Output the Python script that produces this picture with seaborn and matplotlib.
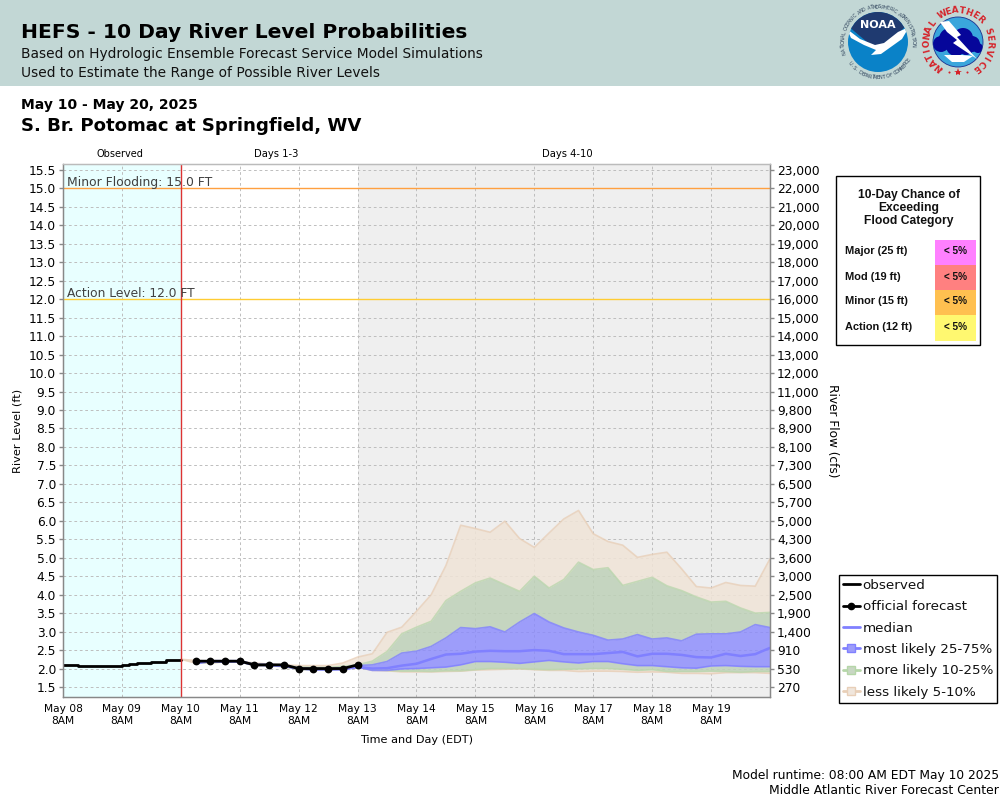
import numpy as np
import pandas as pd
import seaborn as sns
import matplotlib.pyplot as plt
import matplotlib.dates as mdates
from matplotlib.lines import Line2D
from matplotlib.patches import Circle, Polygon, Rectangle

# river levels in ft
obs_levels = [2.10, 2.10, 2.07, 2.07, 2.07, 2.07, 2.07, 2.07, 2.10, 2.12, 2.14, 2.16, 2.17, 2.18, 2.22, 2.22, 2.23]
official = [2.2, 2.2, 2.2, 2.2, 2.1, 2.1, 2.1, 2.0, 2.0, 2.0, 2.0, 2.1]

# 6 hourly from May 10 8AM to May 20 8AM
tan_hi = [2.25, 2.22, 2.2, 2.2, 2.2, 2.15, 2.12, 2.1, 2.08, 2.08, 2.08, 2.15, 2.31, 2.40, 2.98, 3.12, 3.55, 4.0, 4.79, 5.88,
          5.79, 5.69, 5.99, 5.52, 5.28, 5.67, 6.05, 6.28, 5.65, 5.44, 5.34, 5.01, 5.09, 5.15, 4.70, 4.22, 4.18, 4.33, 4.25, 4.23, 4.97]
green_hi = [2.25, 2.15, 2.2, 2.2, 2.2, 2.12, 2.1, 2.08, 2.04, 2.03, 2.03, 2.06, 2.1, 2.2, 2.46, 2.94, 3.12, 3.28, 3.84, 4.09,
            4.32, 4.45, 4.27, 4.09, 4.50, 4.18, 4.41, 4.88, 4.68, 4.73, 4.25, 4.36, 4.47, 4.24, 4.11, 3.94, 3.80, 3.82, 3.64, 3.50, 3.52]
blue_hi = [2.25, 2.15, 2.2, 2.2, 2.2, 2.1, 2.1, 2.08, 2.0, 2.0, 2.0, 2.02, 2.08, 2.10, 2.19, 2.42, 2.47, 2.60, 2.83, 3.11,
           3.08, 3.13, 2.99, 3.26, 3.49, 3.26, 3.10, 2.99, 2.90, 2.77, 2.80, 2.92, 2.80, 2.83, 2.75, 2.93, 2.94, 2.94, 2.99, 3.19, 3.11]
median = [2.25, 2.15, 2.2, 2.2, 2.2, 2.1, 2.1, 2.08, 2.0, 1.98, 1.98, 1.98, 2.04, 2.0, 2.01, 2.08, 2.13, 2.26, 2.38, 2.40,
          2.46, 2.48, 2.47, 2.47, 2.50, 2.48, 2.39, 2.39, 2.39, 2.42, 2.45, 2.33, 2.40, 2.40, 2.37, 2.31, 2.30, 2.40, 2.34, 2.39, 2.56]
blue_lo = [2.25, 2.15, 2.18, 2.18, 2.18, 2.09, 2.08, 2.06, 1.99, 1.97, 1.97, 1.98, 2.04, 1.95, 1.95, 1.99, 2.0, 2.02, 2.04, 2.10,
           2.19, 2.19, 2.17, 2.14, 2.18, 2.22, 2.18, 2.15, 2.19, 2.19, 2.13, 2.08, 2.08, 2.05, 2.02, 2.01, 2.07, 2.08, 2.06, 2.05, 2.05]
green_lo = [2.25, 2.15, 2.16, 2.18, 2.18, 2.08, 2.08, 2.05, 1.98, 1.96, 1.96, 1.98, 2.04, 1.96, 1.95, 1.93, 1.93, 1.92, 1.94, 1.94,
            1.97, 2.0, 2.0, 2.0, 1.98, 1.97, 1.98, 1.99, 2.0, 2.0, 1.98, 1.95, 1.97, 1.92, 1.92, 1.92, 1.93, 1.92, 1.90, 1.92, 1.92]
tan_lo = [2.25, 2.15, 2.15, 2.18, 2.18, 2.08, 2.08, 2.05, 1.98, 1.96, 1.96, 1.98, 2.04, 1.95, 1.94, 1.91, 1.91, 1.91, 1.92, 1.93,
          1.96, 1.97, 1.98, 1.99, 1.97, 1.95, 1.95, 1.92, 1.93, 1.93, 1.92, 1.90, 1.91, 1.90, 1.87, 1.87, 1.86, 1.89, 1.89, 1.89, 1.87]

flow_labels = ["23,000", "22,000", "21,000", "20,000", "19,000", "18,000", "17,000", "16,000", "15,000", "14,000",
               "13,000", "12,000", "11,000", "9,800", "8,900", "8,100", "7,300", "6,500", "5,700", "5,000",
               "4,300", "3,600", "3,000", "2,500", "1,900", "1,400", "910", "530", "270"]
flood_cats = ["Major (25 ft)", "Mod (19 ft)", "Minor (15 ft)", "Action (12 ft)"]
flood_chance = ["< 5%", "< 5%", "< 5%", "< 5%"]
flood_colors = ["#FF80FF", "#FF8080", "#FFC050", "#FFF870"]

start = pd.Timestamp("2025-05-08 08:00")
now = pd.Timestamp("2025-05-10 08:00")
day3 = pd.Timestamp("2025-05-13 08:00")
end = pd.Timestamp("2025-05-20 08:00")
obs_times = pd.date_range(start, now, freq="3h")
fc_times = pd.date_range(now, end, freq="6h")
off_times = pd.date_range(now + pd.Timedelta(hours=6), day3, freq="6h")

TAN, GREEN, BLUE = "#F0E4D7", "#BED1B8", "#8989FD"
TAN_E, GREEN_E, BLUE_E = "#E8CFB8", "#BBD6AE", "#8080FF"

sns.set_theme(style="white")
plt.rcParams["font.family"] = "DejaVu Sans"

fig = plt.figure(figsize=(10, 8), dpi=100)
page = fig.add_axes([0, 0, 1, 1], zorder=-1)
page.set_xlim(0, 1000)
page.set_ylim(800, 0)
page.axis("off")
ax = fig.add_axes([0.063, 103 / 800, 0.707, 533 / 800])

# shaded periods
ax.axvspan(start, now, color="#E8FFFF", lw=0, zorder=0)
ax.axvspan(day3, end, color="#EFEFEF", lw=0, zorder=0)
ax.set_axisbelow(True)
ax.grid(True, color="#BDBDBD", lw=0.7, ls=(0, (2.8, 2.8)))

t = fc_times
ax.fill_between(t, green_hi, tan_hi, color=TAN, alpha=0.85, lw=0)
ax.fill_between(t, blue_hi, green_hi, color=GREEN, alpha=0.85, lw=0)
ax.fill_between(t, blue_lo, blue_hi, color=BLUE, alpha=0.8, lw=0)
ax.fill_between(t, green_lo, blue_lo, color=GREEN, alpha=0.85, lw=0)
ax.fill_between(t, tan_lo, green_lo, color=TAN, alpha=0.85, lw=0)
sns.lineplot(x=t, y=tan_hi, ax=ax, color=TAN_E, lw=1.2, alpha=0.8)
sns.lineplot(x=t, y=tan_lo, ax=ax, color=TAN_E, lw=1.2, alpha=0.8)
# the inner bands only show once they leave the first forecast point
for vals, col in [(green_hi, GREEN_E), (green_lo, GREEN_E), (blue_hi, BLUE_E), (blue_lo, BLUE_E)]:
    sns.lineplot(x=t[1:], y=vals[1:], ax=ax, color=col, lw=1.2, alpha=0.8)
sns.lineplot(x=t[1:], y=median[1:], ax=ax, color=BLUE_E, lw=1.8)
sns.lineplot(x=obs_times, y=obs_levels, ax=ax, color="black", lw=2, drawstyle="steps-post")
sns.lineplot(x=off_times, y=official, ax=ax, color="black", lw=2, marker="o", markersize=5.6, markeredgewidth=0)

ax.axhline(15, color="#FFA040", lw=1)
ax.axhline(12, color="#FFCC33", lw=1)
ax.axvline(now, color="#DD3333", lw=1)
ax.text(start + pd.Timedelta(hours=1.5), 15.06, "Minor Flooding: 15.0 FT", fontsize=8.9, color="#404040", va="baseline")
ax.text(start + pd.Timedelta(hours=1.5), 12.06, "Action Level: 12.0 FT", fontsize=8.8, color="#404040", va="baseline")

ax.set_xlim(start, end)
ax.set_ylim(1.23, 15.66)
ticks = np.arange(1.5, 15.6, 0.5)
ax.set_yticks(ticks)
ax.set_yticklabels([f"{v:.1f}" for v in ticks], fontsize=8.8, color="black")
ax.set_xticks(pd.date_range(start, end - pd.Timedelta(days=1), freq="1D"))
ax.xaxis.set_major_formatter(mdates.DateFormatter("%b %d\n8AM"))
ax.tick_params(axis="x", labelsize=7.7, length=3, width=1, color="#888888", pad=2, labelcolor="black")
ax.tick_params(axis="y", length=3, width=1, color="#888888", pad=2, left=True)
ax.set_xlabel("")
ax.set_ylabel("")

right = ax.twinx()
right.set_ylim(ax.get_ylim())
right.set_yticks(ticks[::-1])
right.set_yticklabels(flow_labels, fontsize=8.8, color="black")
right.tick_params(axis="y", length=3, width=1, color="#888888", pad=2, right=True)
right.grid(False)
for a in (ax, right):
    for side, sp in a.spines.items():
        sp.set_color("#BBBBBB" if side == "top" else "#888888")
        sp.set_linewidth(0.9)

# header
page.add_patch(Rectangle((0, 0), 1000, 86, color="#C2D7D5", lw=0))
page.text(21, 33, "HEFS - 10 Day River Level Probabilities", fontsize=14.6, fontweight="bold", va="center", color="black")
page.text(21, 54, "Based on Hydrologic Ensemble Forecast Service Model Simulations", fontsize=9.95, va="center", color="#111111")
page.text(21, 73, "Used to Estimate the Range of Possible River Levels", fontsize=9.95, va="center", color="#111111")
page.text(21, 105, "May 10 - May 20, 2025", fontsize=10, fontweight="bold", va="center", color="black")
page.text(21, 126, "S. Br. Potomac at Springfield, WV", fontsize=13.1, fontweight="bold", va="center", color="black")

page.text(120, 154, "Observed", fontsize=7, ha="center", va="center", color="black")
page.text(276, 154, "Days 1-3", fontsize=7.2, ha="center", va="center", color="black")
page.text(567, 154, "Days 4-10", fontsize=7.2, ha="center", va="center", color="black")
page.text(18, 431, "River Level (ft)", fontsize=8.2, rotation=90, ha="center", va="center", color="black")
page.text(832, 431, "River Flow (cfs)", fontsize=8.7, rotation=270, ha="center", va="center", color="black")
page.text(417, 740, "Time and Day (EDT)", fontsize=8.1, ha="center", va="center", color="black")
page.text(999, 775, "Model runtime: 08:00 AM EDT May 10 2025", fontsize=8.85, ha="right", va="center", color="black")
page.text(999, 791, "Middle Atlantic River Forecast Center", fontsize=8.9, ha="right", va="center", color="black")

# flood category table
page.add_patch(Rectangle((836, 176), 144, 169, fc="white", ec="black", lw=1))
page.text(909, 208, "10-Day Chance of\nExceeding\nFlood Category", fontsize=8.7, fontweight="bold", family="Liberation Sans",
          ha="center", va="center", linespacing=1.1, color="#111111")
for i, (cat, chance, col) in enumerate(zip(flood_cats, flood_chance, flood_colors)):
    y = 240 + i * 25
    page.add_patch(Rectangle((935, y), 41, 25 if i < 3 else 26, color=col, lw=0))
    page.text(845, y + 11.5, cat, fontsize=7.9, fontweight="bold", family="Liberation Sans", va="center", color="#111111")
    page.text(955.5, y + 11.5, chance, fontsize=7.2, fontweight="bold", family="Liberation Sans", ha="center", va="center", color="#111111")

# legend
handles = [
    Line2D([], [], color="black", lw=2),
    Line2D([], [], color="black", lw=2, marker="o", markersize=4.5),
    Line2D([], [], color=BLUE_E, lw=2),
    Line2D([], [], color=BLUE_E, lw=2, marker="s", markersize=5.5, markerfacecolor="#9D9DFA", markeredgecolor=BLUE_E),
    Line2D([], [], color="#B5D6A8", lw=2, marker="s", markersize=5.5, markerfacecolor="#C8D7C3", markeredgecolor="#B5D6A8"),
    Line2D([], [], color=TAN_E, lw=2, marker="s", markersize=5.5, markerfacecolor="#F0E6DC", markeredgecolor=TAN_E),
]
labels = ["observed", "official forecast", "median", "most likely 25-75%", "more likely 10-25%", "less likely 5-10%"]
leg = page.legend(handles, labels, loc="upper left", bbox_to_anchor=(839 / 1000, 1 - 575 / 800), bbox_transform=fig.transFigure,
                  fontsize=9.7, frameon=True, fancybox=False, framealpha=1, edgecolor="black", borderaxespad=0,
                  borderpad=0.3, handlelength=1.25, handletextpad=0.2, labelspacing=0.62, labelcolor="#111111")
leg.get_frame().set_linewidth(1)


def arc_text(cx, cy, r, text, a0, a1, size, color, weight="normal", bottom=False):
    for ch, a in zip(text, np.linspace(a0, a1, len(text))):
        x = cx + r * np.cos(np.radians(a))
        y = cy - r * np.sin(np.radians(a))
        rot = a + 90 if bottom else a - 90
        page.text(x, y, ch, fontsize=size, color=color, fontweight=weight, rotation=rot, rotation_mode="anchor",
                  ha="center", va="center")


# NOAA logo
nx, ny = 878, 42
arc_text(nx, ny, 35, "NATIONAL OCEANIC AND ATMOSPHERIC ADMINISTRATION", 197, -5, 3.6, "#33475F")
arc_text(nx, ny, 35.5, "U.S. DEPARTMENT OF COMMERCE", 218, 330, 3.6, "#33475F", bottom=True)
disc = Circle((nx, ny), 30, fc="#0A82C8", ec="none")
page.add_patch(disc)
navy = Polygon([(nx - 30, ny - 32), (nx + 30, ny - 32), (nx + 30, ny - 18), (nx + 8, ny + 3), (nx - 5, ny + 5), (nx - 30, ny - 16)],
               fc="#1F3A70", ec="none")
page.add_patch(navy)
navy.set_clip_path(disc)
bird = Polygon([(nx - 31, ny - 13), (nx - 18, ny - 3), (nx - 3, ny + 3), (nx + 6, ny + 1), (nx + 20, ny - 10), (nx + 31, ny - 15),
                (nx + 24, ny - 3), (nx + 10, ny + 7), (nx + 3, ny + 12), (nx - 7, ny + 13), (nx - 2, ny + 8), (nx - 14, ny + 3), (nx - 27, ny - 4)],
               fc="white", ec="none")
page.add_patch(bird)
bird.set_clip_path(disc)
page.text(nx, ny - 17, "NOAA", fontsize=8, fontweight="bold", color="white", ha="center", va="center")

# NWS logo
wx, wy = 958, 42
arc_text(wx, wy, 31.5, "NATIONAL WEATHER SERVICE", 232, -55, 6.3, "#D5232A", weight="bold")
sky = Circle((wx, wy), 25, fc="#3AA6DC", ec="#1B2F8F", lw=0.6)
page.add_patch(sky)
for dx, dy, r in [(-17, 2, 8), (-8, -3, 11), (5, -4, 10), (14, 2, 8), (20, 6, 5), (-2, 4, 10), (8, 5, 8)]:
    blob = Circle((wx + dx, wy + dy), r, fc="#06069A", ec="none")
    page.add_patch(blob)
    blob.set_clip_path(sky)
lower = Polygon([(wx - 14, wy + 13), (wx + 4, wy + 13), (wx + 15, wy + 14), (wx + 6, wy + 20), (wx - 6, wy + 20)], fc="white", ec="none")
page.add_patch(lower)
page.add_patch(Polygon([(wx - 18, wy - 20), (wx - 9, wy - 21), (wx + 3, wy - 7), (wx - 1, wy - 5), (wx + 19, wy + 17),
                        (wx - 5, wy + 1), (wx - 1, wy - 2), (wx - 11, wy - 10)], fc="white", ec="none"))
page.plot([wx], [wy + 30], marker="*", color="#D5232A", ms=6, mew=0)
page.plot([wx - 9, wx + 9, wx - 17, wx + 17], [wy + 30, wy + 30, wy + 27, wy + 27], ls="", marker="o", color="#D5232A", ms=1.5, mew=0)
page.set_xlim(0, 1000)
page.set_ylim(800, 0)

fig.savefig("out.png", dpi=100, facecolor="white")
